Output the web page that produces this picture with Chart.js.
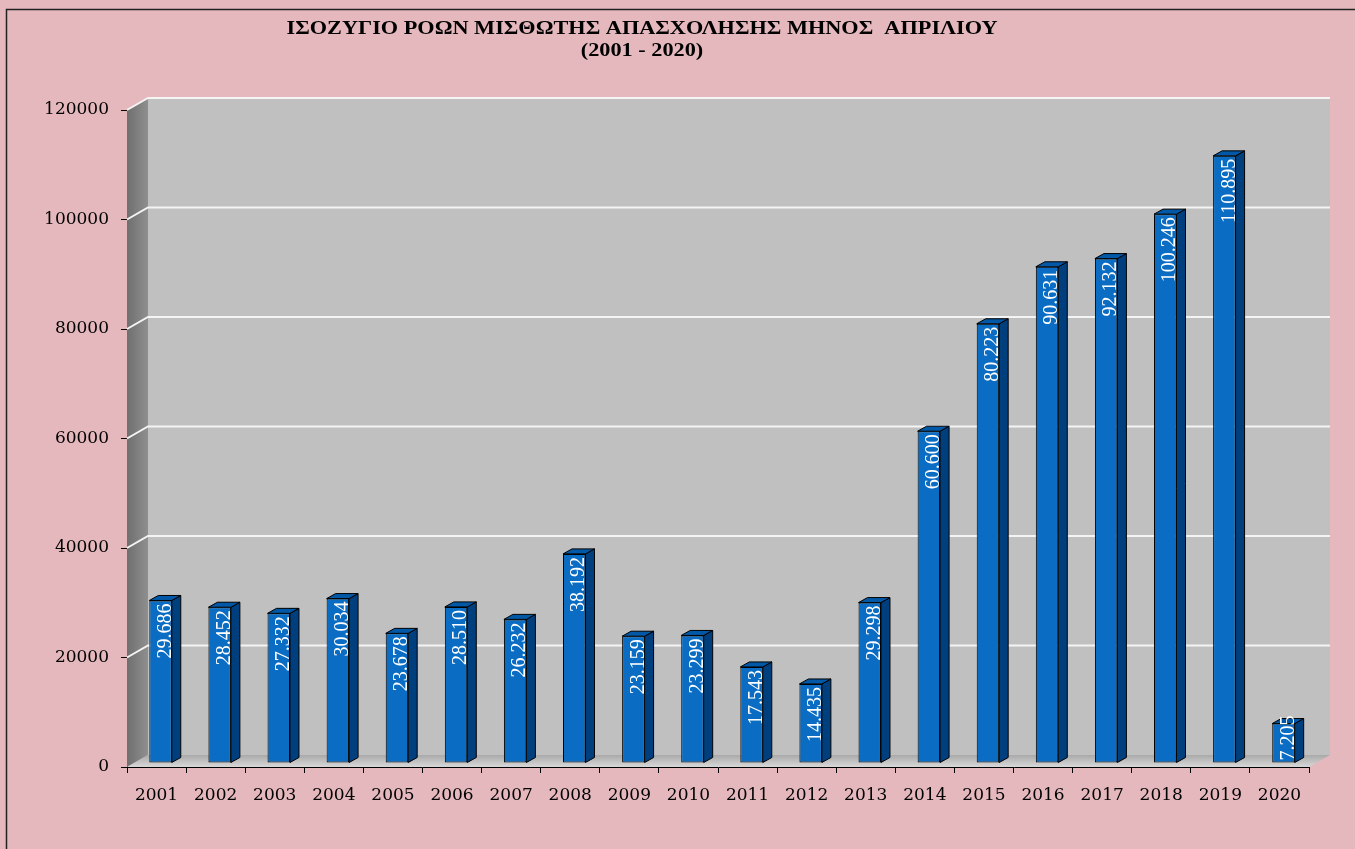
<!DOCTYPE html>
<html>
<head>
<meta charset="utf-8">
<script src="https://cdn.jsdelivr.net/npm/chart.js@4"></script>
<style>
  html, body { margin: 0; padding: 0; background: #e6bbbf; }
  canvas { display: block; }
</style>
</head>
<body>
<canvas id="myChart" width="1355" height="849"></canvas>
<script>
// Chart data
const years = ['2001', '2002', '2003', '2004', '2005', '2006', '2007', '2008', '2009', '2010',
               '2011', '2012', '2013', '2014', '2015', '2016', '2017', '2018', '2019', '2020'];
const balance = [29686, 28452, 27332, 30034, 23678, 28510, 26232, 38192, 23159, 23299,
                 17543, 14435, 29298, 60600, 80223, 90631, 92132, 100246, 110895, 7205];
const titleLines = ['ΙΣΟΖΥΓΙΟ ΡΟΩΝ ΜΙΣΘΩΤΗΣ ΑΠΑΣΧΟΛΗΣΗΣ ΜΗΝΟΣ  ΑΠΡΙΛΙΟΥ', '(2001 - 2020)'];
const yMax = 120000;
const yStep = 20000;

// 3D look
const WALL_DX = 21, WALL_DY = -12;   // depth of the back wall
const BAR_DX = 9, BAR_DY = -5;       // depth of each bar
const SHIFT_X = 4, SHIFT_Y = -4;     // bars stand a bit inside the floor

const fmt = v => String(v).replace(/\B(?=(\d{3})+(?!\d))/g, '.');

const backdrop = {
    id: 'backdrop',
    beforeDraw(chart) {
        const ctx = chart.ctx;
        ctx.save();
        ctx.fillStyle = '#e5b8bd';
        ctx.fillRect(0, 0, chart.width, chart.height);
        // frame
        ctx.strokeStyle = '#222';
        ctx.lineWidth = 1.5;
        ctx.beginPath();
        ctx.moveTo(6.5, chart.height);
        ctx.lineTo(6.5, 9.5);
        ctx.lineTo(chart.width, 9.5);
        ctx.stroke();
        // title, wide serif look
        ctx.fillStyle = '#000';
        ctx.textAlign = 'center';
        ctx.textBaseline = 'middle';
        ctx.font = 'bold 19px "Liberation Serif"';
        const sx = 711 / ctx.measureText(titleLines[0]).width;
        ctx.translate(642, 0);
        ctx.scale(sx, 1);
        ctx.fillText(titleLines[0], 0, 29);
        ctx.fillText(titleLines[1], 0, 51);
        ctx.restore();
    }
};

const walls = {
    id: 'walls',
    beforeDatasetsDraw(chart) {
        const ctx = chart.ctx;
        const a = chart.chartArea;
        const y = chart.scales.y;
        const L = a.left, R = a.right, T = a.top, B = a.bottom;
        ctx.save();
        // left wall
        let g = ctx.createLinearGradient(L, 0, L + WALL_DX, 0);
        g.addColorStop(0, '#6f6f6f');
        g.addColorStop(1, '#8f8f8f');
        ctx.fillStyle = g;
        ctx.beginPath();
        ctx.moveTo(L, T);
        ctx.lineTo(L + WALL_DX, T + WALL_DY);
        ctx.lineTo(L + WALL_DX, B + WALL_DY);
        ctx.lineTo(L, B);
        ctx.closePath();
        ctx.fill();
        // back wall
        ctx.fillStyle = '#c0c0c0';
        ctx.fillRect(L + WALL_DX, T + WALL_DY, R - L, B - T);
        // floor
        g = ctx.createLinearGradient(0, B + WALL_DY, 0, B);
        g.addColorStop(0, '#a9a9a9');
        g.addColorStop(1, '#d8d8d8');
        ctx.fillStyle = g;
        ctx.beginPath();
        ctx.moveTo(L, B);
        ctx.lineTo(L + WALL_DX, B + WALL_DY);
        ctx.lineTo(R + WALL_DX, B + WALL_DY);
        ctx.lineTo(R, B);
        ctx.closePath();
        ctx.fill();
        // grid lines on walls
        ctx.strokeStyle = '#f4f4f4';
        ctx.lineWidth = 2;
        for (let v = yStep; v <= yMax; v += yStep) {
            const py = y.getPixelForValue(v);
            ctx.beginPath();
            ctx.moveTo(L, py);
            ctx.lineTo(L + WALL_DX, py + WALL_DY);
            ctx.lineTo(R + WALL_DX, py + WALL_DY);
            ctx.stroke();
        }
        ctx.restore();
        // bars are drawn shifted inside the box
        ctx.save();
        ctx.translate(SHIFT_X, SHIFT_Y);
    },
    afterDatasetsDraw(chart) {
        const ctx = chart.ctx;
        const meta = chart.getDatasetMeta(0);
        ctx.lineWidth = 1;
        ctx.strokeStyle = '#000';
        meta.data.forEach(bar => {
            const x0 = bar.x - bar.width / 2, x1 = bar.x + bar.width / 2;
            const top = bar.y, base = bar.base;
            // side
            ctx.fillStyle = '#003f7e';
            ctx.beginPath();
            ctx.moveTo(x1, base);
            ctx.lineTo(x1 + BAR_DX, base + BAR_DY);
            ctx.lineTo(x1 + BAR_DX, top + BAR_DY);
            ctx.lineTo(x1, top);
            ctx.closePath();
            ctx.fill();
            ctx.stroke();
            // top
            ctx.fillStyle = '#0058a6';
            ctx.beginPath();
            ctx.moveTo(x0, top);
            ctx.lineTo(x0 + BAR_DX, top + BAR_DY);
            ctx.lineTo(x1 + BAR_DX, top + BAR_DY);
            ctx.lineTo(x1, top);
            ctx.closePath();
            ctx.fill();
            ctx.stroke();
        });
        // value labels, vertical
        ctx.fillStyle = '#fff';
        ctx.font = '20px "Liberation Serif"';
        ctx.textAlign = 'right';
        ctx.textBaseline = 'alphabetic';
        meta.data.forEach((bar, i) => {
            const txt = fmt(balance[i]);
            const w = ctx.measureText(txt).width;
            let yEnd = bar.y + 3;
            if (yEnd + w > bar.base - 2) yEnd = bar.base - 2 - w;
            ctx.save();
            ctx.translate(bar.x + bar.width / 2 - 1, yEnd);
            ctx.rotate(-Math.PI / 2);
            ctx.fillText(txt, 0, 0);
            ctx.restore();
        });
        ctx.restore();
    }
};

const tickFont = { family: '"DejaVu Serif"', size: 17 };

const config = {
    type: 'bar',
    data: {
        labels: years,
        datasets: [{
            data: balance,
            backgroundColor: '#0a6cc2',
            borderColor: '#000',
            borderWidth: 1,
            borderSkipped: false,
            categoryPercentage: 1,
            barPercentage: 0.38,
            clip: false
        }]
    },
    options: {
        responsive: false,
        animation: false,
        events: [],
        layout: { padding: { left: 0, top: 110, right: 46, bottom: 42 } },
        plugins: {
            legend: { display: false },
            title: { display: false },
            tooltip: { enabled: false }
        },
        scales: {
            x: {
                afterFit: s => { s.height = 40; },
                grid: { offset: true, drawOnChartArea: false, tickLength: 6, color: '#000' },
                border: { display: true, color: '#000', width: 1 },
                ticks: { color: '#000', font: tickFont, padding: 12, maxRotation: 0 }
            },
            y: {
                min: 0,
                max: yMax,
                afterFit: s => { s.width = 127; },
                grid: { drawOnChartArea: false, tickLength: 6, color: '#000' },
                border: { display: true, color: '#000', width: 1 },
                ticks: { stepSize: yStep, color: '#000', font: tickFont, padding: 12,
                         callback: v => String(v) }
            }
        }
    },
    plugins: [backdrop, walls]
};

const ctx = document.getElementById('myChart').getContext('2d');
new Chart(ctx, config);
</script>
</body>
</html>
